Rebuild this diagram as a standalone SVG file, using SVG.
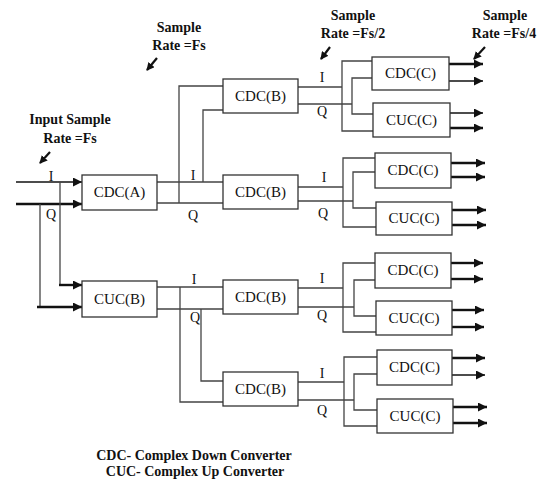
<svg xmlns="http://www.w3.org/2000/svg" width="545" height="483" viewBox="0 0 545 483">
<style>
.box{fill:#fff;stroke:#333;stroke-width:1.3}
.bl{font-family:"Liberation Serif","Times New Roman",serif;font-size:15px;fill:#111;text-anchor:middle}
.lbl{font-family:"Liberation Serif","Times New Roman",serif;font-size:14px;fill:#111;text-anchor:middle}
.ann{font-family:"Liberation Serif","Times New Roman",serif;font-size:14px;font-weight:bold;fill:#111;text-anchor:middle}
.w{fill:none;stroke:#444;stroke-width:1.3}
.a{fill:none;stroke:#111;stroke-width:1.4;marker-end:url(#ah)}
.at{fill:none;stroke:#111;stroke-width:2.4;marker-end:url(#ah)}
.d{fill:none;stroke:#111;stroke-width:2.2;marker-end:url(#dh)}
</style>
<defs>
<marker id="ah" markerUnits="userSpaceOnUse" markerWidth="10" markerHeight="9" refX="9" refY="4.5" orient="auto"><path d="M0,0 L9,4.5 L0,9 z" fill="#111"/></marker>
<marker id="dh" markerUnits="userSpaceOnUse" markerWidth="9" markerHeight="8" refX="7" refY="4" orient="auto"><path d="M0,0 L8,4 L0,8 z" fill="#111"/></marker>
</defs>

<g id="annotations">
<text class="ann" x="179" y="32">Sample</text>
<text class="ann" x="179" y="50">Rate =Fs</text>
<path class="d" d="M157,58 L147,70"/>
<text class="ann" x="70" y="124">Input Sample</text>
<text class="ann" x="70" y="143">Rate =Fs</text>
<path class="d" d="M50,152 L40,163"/>
<text class="ann" x="353" y="20">Sample</text>
<text class="ann" x="353" y="38">Rate =Fs/2</text>
<path class="d" d="M330,47 L321,59"/>
<text class="ann" x="505" y="20">Sample</text>
<text class="ann" x="504" y="38">Rate =Fs/4</text>
<path class="d" d="M485,47 L474,59"/>
</g>

<g id="connectors">
<!-- inputs -->
<path class="a" d="M16,182 H82"/>
<path class="at" d="M16,204 H82"/>
<path class="w" d="M60,182 V285"/>
<path class="w" d="M40,204 V307"/>
<path class="at" d="M59,285 H82"/>
<path class="at" d="M37,307 H82"/>
<!-- CDC(A) outputs -->
<path class="w" d="M157,182 H223 M157,203 H223"/>
<path class="w" d="M179,203 V86 H223"/>
<path class="w" d="M203,182 V110 H223"/>
<!-- CUC(B) outputs -->
<path class="w" d="M157,287 H223 M157,309 H223"/>
<path class="w" d="M180,287 V402 H223"/>
<path class="w" d="M201,309 V381 H223"/>
<!-- group 1 -->
<path class="w" d="M298,87 H342 M298,104 H352"/>
<path class="w" d="M372,61 H342 V131 H373"/>
<path class="w" d="M372,78 H352 V114 H373"/>
<!-- group 2 -->
<path class="w" d="M298,187 H343 M298,201 H353"/>
<path class="w" d="M375,158 H343 V227 H376"/>
<path class="w" d="M375,172 H353 V208 H376"/>
<!-- group 3 -->
<path class="w" d="M298,288 H343 M298,307 H354"/>
<path class="w" d="M375,263 H343 V332 H376"/>
<path class="w" d="M375,280 H354 V316 H376"/>
<!-- group 4 -->
<path class="w" d="M298,382 H344 M298,400 H354"/>
<path class="w" d="M377,357 H344 V426 H377"/>
<path class="w" d="M377,374 H354 V410 H377"/>
<!-- outputs -->
<path class="at" d="M449,64 H483"/>
<path class="a" d="M449,81 H483"/>
<path class="a" d="M450,113 H483"/>
<path class="at" d="M450,128 H483"/>
<path class="at" d="M451,163 H485"/>
<path class="at" d="M451,177 H485"/>
<path class="at" d="M452,210 H486"/>
<path class="at" d="M452,225 H486"/>
<path class="at" d="M451,263 H483"/>
<path class="at" d="M451,279 H483"/>
<path class="at" d="M452,310 H484"/>
<path class="at" d="M452,327 H484"/>
<path class="at" d="M452,358 H485"/>
<path class="a" d="M452,375 H485"/>
<path class="at" d="M453,407 H487"/>
<path class="at" d="M453,423 H487"/>
</g>

<g id="iq-labels">
<text class="lbl" x="51" y="181">I</text>
<text class="lbl" x="51" y="219">Q</text>
<text class="lbl" x="193" y="180">I</text>
<text class="lbl" x="193" y="220">Q</text>
<text class="lbl" x="194" y="284">I</text>
<text class="lbl" x="195" y="322">Q</text>
<text class="lbl" x="322" y="82">I</text>
<text class="lbl" x="322" y="116">Q</text>
<text class="lbl" x="324" y="182">I</text>
<text class="lbl" x="323" y="218">Q</text>
<text class="lbl" x="322" y="283">I</text>
<text class="lbl" x="322" y="320">Q</text>
<text class="lbl" x="322" y="378">I</text>
<text class="lbl" x="322" y="415">Q</text>
</g>

<g id="cdcA"><rect class="box" x="82" y="175" width="75" height="35"/><text class="bl" x="119.5" y="197">CDC(A)</text></g>
<g id="cucB"><rect class="box" x="82" y="281" width="75" height="36"/><text class="bl" x="119.5" y="304">CUC(B)</text></g>

<g id="cdcB1"><rect class="box" x="223" y="79" width="75" height="34"/><text class="bl" x="260.5" y="101">CDC(B)</text></g>
<g id="cdcB2"><rect class="box" x="223" y="175" width="75" height="34"/><text class="bl" x="260.5" y="197">CDC(B)</text></g>
<g id="cdcB3"><rect class="box" x="223" y="280" width="75" height="34"/><text class="bl" x="260.5" y="302">CDC(B)</text></g>
<g id="cdcB4"><rect class="box" x="223" y="372" width="75" height="34"/><text class="bl" x="260.5" y="394">CDC(B)</text></g>

<g id="cdcC1"><rect class="box" x="372" y="57" width="77" height="33"/><text class="bl" x="410.5" y="78">CDC(C)</text></g>
<g id="cucC1"><rect class="box" x="373" y="103" width="77" height="34"/><text class="bl" x="411.5" y="125">CUC(C)</text></g>
<g id="cdcC2"><rect class="box" x="375" y="153" width="76" height="35"/><text class="bl" x="413" y="175">CDC(C)</text></g>
<g id="cucC2"><rect class="box" x="376" y="202" width="76" height="33"/><text class="bl" x="414" y="223">CUC(C)</text></g>
<g id="cdcC3"><rect class="box" x="375" y="253" width="76" height="35"/><text class="bl" x="413" y="275">CDC(C)</text></g>
<g id="cucC3"><rect class="box" x="376" y="301" width="76" height="34"/><text class="bl" x="414" y="323">CUC(C)</text></g>
<g id="cdcC4"><rect class="box" x="377" y="350" width="75" height="35"/><text class="bl" x="414.5" y="372">CDC(C)</text></g>
<g id="cucC4"><rect class="box" x="377" y="399" width="76" height="34"/><text class="bl" x="415" y="421">CUC(C)</text></g>

<g id="legend">
<text class="ann" x="194" y="460">CDC- Complex Down Converter</text>
<text class="ann" x="195" y="476">CUC- Complex Up Converter</text>
</g>
</svg>
